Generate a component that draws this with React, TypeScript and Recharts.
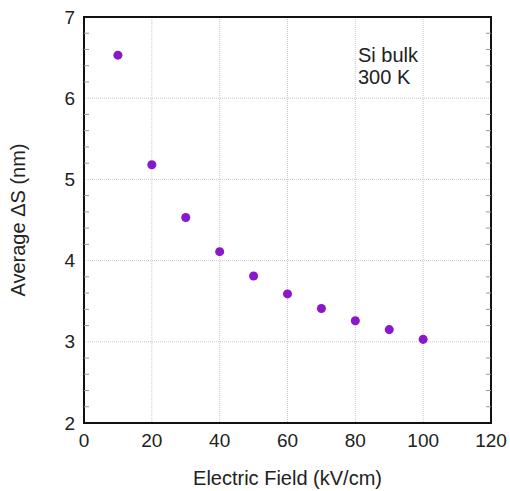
import { ScatterChart, Scatter, XAxis, YAxis, CartesianGrid, ReferenceArea, Customized } from 'recharts'

const fieldValues = [10, 20, 30, 40, 50, 60, 70, 80, 90, 100]
const avgDeltaS = [6.53, 5.18, 4.53, 4.11, 3.81, 3.59, 3.41, 3.26, 3.15, 3.03]
const xTicks = [0, 20, 40, 60, 80, 100, 120]
const yTicks = [2, 2.2, 2.4, 2.6, 2.8, 3, 3.2, 3.4, 3.6, 3.8, 4, 4.2, 4.4, 4.6, 4.8, 5, 5.2, 5.4, 5.6, 5.8, 6, 6.2, 6.4, 6.6, 6.8, 7]
const gridY = [3, 4, 5, 6]
const gridX = [20, 40, 60, 80, 100]
const annotation = ['Si bulk', '300 K']

const data = fieldValues.map((f, i) => ({ field: f, ds: avgDeltaS[i] }))

const FONT = '"Liberation Sans", Arial, sans-serif'
const CHART_W = 510
const MARGIN = { top: 17, right: 19, bottom: 0, left: 0 }
const Y_AXIS_W = 84
const PLOT_W = CHART_W - MARGIN.right - MARGIN.left - Y_AXIS_W

const isMajor = (v: number) => Math.abs(v - Math.round(v)) < 1e-6

// left labels + minor ticks on both the left and right frame edges
const LeftTick = (props: any) => {
  const { x, y, payload } = props
  const v = payload.value
  if (!isMajor(v)) {
    return (
      <g>
        <line x1={x} x2={x + 5} y1={y} y2={y} stroke="#999" strokeWidth={1} />
        <line x1={x + PLOT_W - 5} x2={x + PLOT_W} y1={y} y2={y} stroke="#999" strokeWidth={1} />
      </g>
    )
  }
  return (
    <text x={x - 9} y={y} textAnchor="end" dominantBaseline="central" fontSize={19} fill="#222" fontFamily={FONT}>
      {v}
    </text>
  )
}

const BottomTick = (props: any) => {
  const { x, y, payload } = props
  return (
    <text x={x} y={y + 17} textAnchor="middle" dominantBaseline="central" fontSize={19} fill="#222" fontFamily={FONT}>
      {payload.value}
    </text>
  )
}

const Note = () => (
  <g>
    {annotation.map((t, i) => (
      <text key={t} x={358} y={62 + i * 22} fontSize={20} fill="#222" fontFamily={FONT}>
        {t}
      </text>
    ))}
  </g>
)

export default function App() {
  return (
    <div style={{ position: 'absolute', left: 0, top: 0, background: '#fff' }}>
      <ScatterChart width={CHART_W} height={491} margin={MARGIN}>
        <CartesianGrid
          stroke="#c8c8d0"
          strokeDasharray="1 1"
          horizontalValues={gridY}
          verticalValues={gridX}
        />
        <XAxis
          type="number"
          dataKey="field"
          domain={[0, 120]}
          ticks={xTicks}
          height={68}
          tickLine={false}
          tickSize={0}
          tickMargin={0}
          tick={<BottomTick />}
          axisLine={{ stroke: '#111', strokeWidth: 2 }}
          label={{ value: 'Electric Field (kV/cm)', position: 'insideBottom', offset: 6, fontSize: 20, fill: '#222', fontFamily: FONT }}
        />
        <YAxis
          type="number"
          dataKey="ds"
          domain={[2, 7]}
          ticks={yTicks}
          interval={0}
          width={Y_AXIS_W}
          tickLine={false}
          tickSize={0}
          tickMargin={0}
          tick={<LeftTick />}
          axisLine={{ stroke: '#111', strokeWidth: 2 }}
          label={{ value: 'Average ΔS (nm)', angle: -90, position: 'center', dx: -24, fontSize: 20, fill: '#222', fontFamily: FONT }}
        />
        <ReferenceArea
          x1={0}
          x2={120}
          y1={2}
          y2={7}
          fill="none"
          fillOpacity={0}
          stroke="#111"
          strokeWidth={2}
          ifOverflow="visible"
        />
        <Scatter data={data} fill="#8a17cc" shape="circle" isAnimationActive={false} />
        <Customized component={Note} />
      </ScatterChart>
    </div>
  )
}
